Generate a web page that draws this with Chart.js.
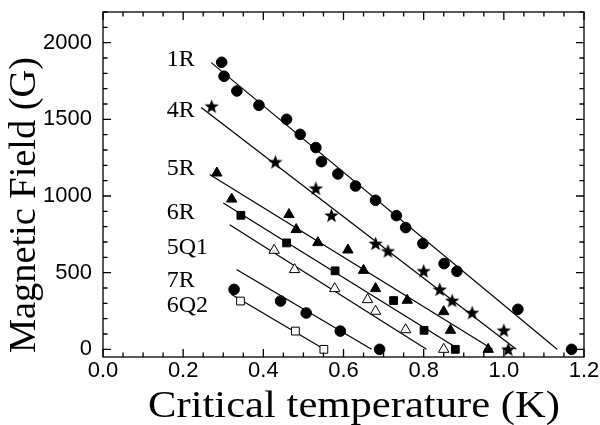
<!DOCTYPE html>
<html>
<head>
<meta charset="utf-8">
<script src="https://cdn.jsdelivr.net/npm/chart.js@4.4.1/dist/chart.umd.min.js"></script>
<style>
  html, body { margin: 0; padding: 0; background: #fff; }
  #wrap { width: 600px; height: 425px; }
</style>
</head>
<body>
<div id="wrap"><canvas id="myChart"></canvas></div>
<script>
// series names, in order top to bottom
const seriesNames = ['1R', '4R', '5R', '6R', '5Q1', '7R', '6Q2']

// measured points (critical temperature K, field G)
const temp1R  = [0.296, 0.302, 0.334, 0.389, 0.458, 0.492, 0.531, 0.545, 0.586, 0.630, 0.680, 0.732, 0.755, 0.798, 0.851, 0.883, 1.035, 1.169]
const field1R = [1872, 1781, 1685, 1592, 1500, 1402, 1316, 1224, 1144, 1065, 972, 872, 794, 690, 559, 509, 261, 0]

const temp4R  = [0.271, 0.430, 0.531, 0.570, 0.680, 0.711, 0.800, 0.840, 0.871, 0.921, 1.000, 1.011]
const field4R = [1585, 1222, 1050, 874, 690, 641, 511, 391, 318, 239, 124, 0]

const temp5R  = [0.284, 0.321, 0.464, 0.482, 0.536, 0.611, 0.650, 0.680, 0.759, 0.850, 0.867, 0.961]
const field5R = [1150, 980, 879, 781, 696, 648, 515, 396, 320, 246, 124, 0]

const temp6R  = [0.344, 0.458, 0.579, 0.725, 0.801, 0.879]
const field6R = [874, 694, 512, 318, 124, 0]

const temp5Q1  = [0.427, 0.478, 0.578, 0.660, 0.680, 0.755, 0.850]
const field5Q1 = [646, 520, 396, 324, 248, 128, 0]

const temp7R  = [0.327, 0.443, 0.507, 0.592, 0.690]
const field7R = [391, 315, 237, 119, 0]

const temp6Q2  = [0.343, 0.480, 0.551]
const field6Q2 = [315, 119, 0]

// fitted lines: [start T, start H, end T, end H]
const fit1R  = [0.270, 1870, 1.133, 0]
const fit4R  = [0.245, 1577, 1.031, 0]
const fit5R  = [0.266, 1140, 0.972, 0]
const fit6R  = [0.300, 954, 0.888, 0]
const fit5Q1 = [0.316, 813, 0.807, 0]
const fit7R  = [0.333, 520, 0.670, 0]
const fit6Q2 = [0.320, 359, 0.552, 0]

// where the series names sit (data coords)
const labelT = [0.159, 0.159, 0.159, 0.159, 0.159, 0.159, 0.159]
const labelH = [1892, 1559, 1181, 894, 665, 450, 287]

const xTickStep = 0.05
const yTickStep = 100

const serif = '"Liberation Serif", "Times New Roman", serif'
const sans = '"Liberation Sans", Arial, sans-serif'

function makeStar(size) {
    const c = document.createElement('canvas')
    c.width = size
    c.height = size
    const g = c.getContext('2d')
    const cx = size / 2, cy = size / 2 + 0.6
    const ro = size / 2, ri = ro * 0.42
    g.beginPath()
    for (let i = 0; i < 10; i++) {
        const r = i % 2 === 0 ? ro : ri
        const a = -Math.PI / 2 + i * Math.PI / 5
        const px = cx + r * Math.cos(a)
        const py = cy + r * Math.sin(a)
        if (i === 0) g.moveTo(px, py)
        else g.lineTo(px, py)
    }
    g.closePath()
    g.fillStyle = '#000'
    g.fill()
    return c
}

function pts(xs, ys) {
    return xs.map((x, i) => ({x: x, y: ys[i]}))
}

function fitLine(f) {
    return {
        data: [{x: f[0], y: f[1]}, {x: f[2], y: f[3]}],
        showLine: true,
        borderColor: '#000',
        borderWidth: 1.2,
        pointRadius: 0,
        pointHoverRadius: 0,
        order: 2
    }
}

function marks(xs, ys, style, filled, radius) {
    return {
        data: pts(xs, ys),
        showLine: false,
        pointStyle: style,
        pointRadius: radius,
        pointHoverRadius: radius,
        backgroundColor: filled ? '#000' : '#fff',
        borderColor: '#000',
        borderWidth: 1,
        order: 1
    }
}

const star = makeStar(15)

const datasets = [
    fitLine(fit1R), fitLine(fit4R), fitLine(fit5R), fitLine(fit6R),
    fitLine(fit5Q1), fitLine(fit7R), fitLine(fit6Q2),
    marks(temp1R, field1R, 'circle', true, 5.3),
    marks(temp4R, field4R, star, true, 7),
    marks(temp5R, field5R, 'triangle', true, 6),
    marks(temp6R, field6R, 'rect', true, 5.5),
    marks(temp5Q1, field5Q1, 'triangle', false, 6),
    marks(temp7R, field7R, 'circle', true, 5.3),
    marks(temp6Q2, field6Q2, 'rect', false, 5.5)
]

function nearMultiple(v, m) {
    const q = v / m
    return Math.abs(q - Math.round(q)) < 1e-6
}

// draw text stretched to a given length
function stretchedText(ctx, text, x, y, rot, length) {
    ctx.save()
    ctx.translate(x, y)
    ctx.rotate(rot)
    const w = ctx.measureText(text).width
    ctx.scale(length / w, 1)
    ctx.fillText(text, 0, 0)
    ctx.restore()
}

// box around the plot plus inward ticks on all four sides
const frame = {
    id: 'frame',
    afterDatasetsDraw(chart) {
        const ctx = chart.ctx
        const a = chart.chartArea
        const xs = chart.scales.x
        const ys = chart.scales.y
        ctx.save()
        ctx.strokeStyle = '#000'
        ctx.lineWidth = 1.3
        ctx.strokeRect(a.left, a.top, a.right - a.left, a.bottom - a.top)
        ctx.beginPath()
        xs.ticks.forEach(t => {
            if (!nearMultiple(t.value, xTickStep)) return
            const px = xs.getPixelForValue(t.value)
            const len = nearMultiple(t.value, 0.2) ? 8 : 4.5
            ctx.moveTo(px, a.bottom); ctx.lineTo(px, a.bottom - len)
            ctx.moveTo(px, a.top); ctx.lineTo(px, a.top + len)
        })
        ys.ticks.forEach(t => {
            if (!nearMultiple(t.value, yTickStep)) return
            const py = ys.getPixelForValue(t.value)
            const len = nearMultiple(t.value, 500) ? 8 : 4.5
            ctx.moveTo(a.left, py); ctx.lineTo(a.left + len, py)
            ctx.moveTo(a.right, py); ctx.lineTo(a.right - len, py)
        })
        ctx.stroke()

        ctx.fillStyle = '#000'
        ctx.font = '24px ' + serif
        ctx.textAlign = 'left'
        ctx.textBaseline = 'middle'
        seriesNames.forEach((name, i) => {
            ctx.fillText(name, xs.getPixelForValue(labelT[i]), ys.getPixelForValue(labelH[i]))
        })

        // axis titles
        ctx.font = '38px ' + serif
        ctx.textAlign = 'center'
        ctx.textBaseline = 'alphabetic'
        stretchedText(ctx, 'Critical temperature (K)', 354, 417, 0, 412)
        stretchedText(ctx, 'Magnetic Field (G)', 35, 205, -Math.PI / 2, 296)
        ctx.restore()
    }
}

const ctx = document.getElementById('myChart')
const chart = new Chart(ctx, {
    type: 'scatter',
    data: { datasets: datasets },
    options: {
        responsive: true,
        maintainAspectRatio: false,
        animation: false,
        events: [],
        layout: { padding: { top: 12, right: 16, left: 0, bottom: 0 } },
        plugins: {
            legend: { display: false },
            tooltip: { enabled: false }
        },
        scales: {
            x: {
                type: 'linear',
                min: 0,
                max: 1.2,
                afterFit(scale) {
                    scale.height = 68
                    scale.paddingLeft = 0
                    scale.paddingRight = 0
                },
                grid: { display: false, drawTicks: false },
                border: { display: false },
                ticks: {
                    stepSize: xTickStep,
                    autoSkip: false,
                    maxRotation: 0,
                    padding: 1,
                    color: '#000',
                    font: { family: sans, size: 22 },
                    callback: v => nearMultiple(v, 0.2) ? v.toFixed(1) : ''
                }
            },
            y: {
                type: 'linear',
                min: -50,
                max: 2200,
                afterFit(scale) {
                    scale.width = 103
                    scale.paddingTop = 0
                    scale.paddingBottom = 0
                },
                grid: { display: false, drawTicks: false },
                border: { display: false },
                ticks: {
                    stepSize: yTickStep,
                    autoSkip: false,
                    includeBounds: false,
                    padding: 11,
                    color: '#000',
                    font: { family: sans, size: 22 },
                    callback: v => nearMultiple(v, 500) ? String(v) : ''
                }
            }
        }
    },
    plugins: [frame]
})
</script>
</body>
</html>
